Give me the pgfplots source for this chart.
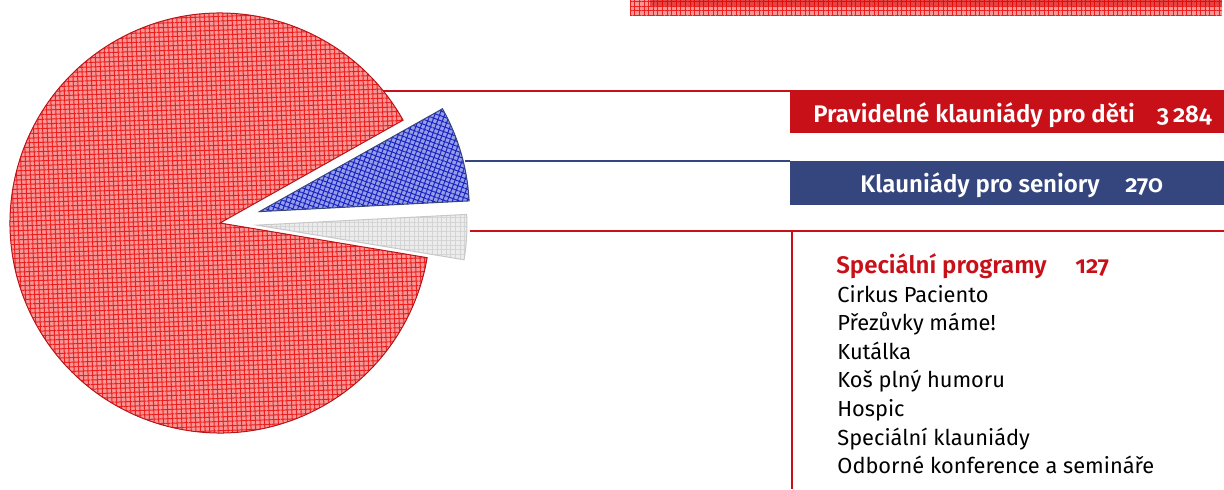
\documentclass[border=0pt]{standalone}
\usepackage{fontspec}
\setmainfont{Fira Sans}[Numbers={OldStyle,Proportional},BoldFont={Fira Sans SemiBold}]
\usepackage{pgfplots}
\pgfplotsset{compat=1.18}
\usepackage{pgfplotstable}
\usetikzlibrary{patterns.meta}

\definecolor{bannerred}{RGB}{200,16,24}
\definecolor{bannerblue}{RGB}{53,70,126}
\definecolor{redbase}{RGB}{248,150,150}
\definecolor{redline}{RGB}{236,30,30}
\definecolor{redborder}{RGB}{185,20,25}
\definecolor{bluebase}{RGB}{150,158,232}
\definecolor{blueline}{RGB}{25,35,195}
\definecolor{blueborder}{RGB}{55,70,125}
\definecolor{greybase}{RGB}{236,236,236}
\definecolor{greyline}{RGB}{212,212,212}
\definecolor{greyborder}{RGB}{200,200,200}

% slices counter-clockwise from the start angle: value, explode (px)
\pgfplotstableread{
name value explode
Special 127 37
Seniors 270 41
Children 3284 0
}\slices

\pgfplotstablegetelem{0}{value}\of\slices \pgfmathsetmacro\vG{\pgfplotsretval}
\pgfplotstablegetelem{1}{value}\of\slices \pgfmathsetmacro\vB{\pgfplotsretval}
\pgfplotstablegetelem{2}{value}\of\slices \pgfmathsetmacro\vR{\pgfplotsretval}
\pgfplotstablegetelem{0}{explode}\of\slices \pgfmathsetmacro\eG{\pgfplotsretval}
\pgfplotstablegetelem{1}{explode}\of\slices \pgfmathsetmacro\eB{\pgfplotsretval}
\pgfplotstablegetelem{2}{explode}\of\slices \pgfmathsetmacro\eR{\pgfplotsretval}
\pgfmathsetmacro\tot{\vG+\vB+\vR}
\pgfmathsetmacro\fG{\vG/\tot}
\pgfmathsetmacro\fB{\vB/\tot}
\pgfmathsetmacro\aS{-9.5}
\pgfmathsetmacro\aGB{\aS+360*\fG}
\pgfmathsetmacro\aBR{\aGB+360*\fB}
\pgfmathsetmacro\aE{\aS+360}
\pgfmathsetmacro\cx{220}
\pgfmathsetmacro\cy{266}
\pgfmathsetmacro\mG{(\aS+\aGB)/2}
\pgfmathsetmacro\mB{(\aGB+\aBR)/2}
\pgfmathsetmacro\gx{\cx+\eG*cos(\mG)}
\pgfmathsetmacro\gy{\cy+\eG*sin(\mG)}
\pgfmathsetmacro\bx{\cx+\eB*cos(\mB)}
\pgfmathsetmacro\by{\cy+\eB*sin(\mB)}

\newcommand\wedgefill[9]{%
  \fill[#5] (axis cs:#1,#2) -- ++(#3:105pt) arc[start angle=#3,end angle=#4,radius=105pt] -- cycle;
  \fill[pattern={Lines[angle=#8,distance=2.3pt,line width=0.5pt]},pattern color=#6] (axis cs:#1,#2) -- ++(#3:105pt) arc[start angle=#3,end angle=#4,radius=105pt] -- cycle;
  \fill[pattern={Lines[angle=#9,distance=2.3pt,line width=0.5pt]},pattern color=#6] (axis cs:#1,#2) -- ++(#3:105pt) arc[start angle=#3,end angle=#4,radius=105pt] -- cycle;
  \draw[#7,line width=0.5pt,line join=miter] (axis cs:#1,#2) -- ++(#3:105pt) arc[start angle=#3,end angle=#4,radius=105pt] -- cycle;
}
\newcommand\bfsz{\bfseries\fontsize{12}{14}\selectfont}
\newcommand\rgsz{\fontsize{10.9}{13}\selectfont}

\begin{document}
\begin{tikzpicture}
\begin{axis}[
  x=0.5pt, y=0.5pt,
  xmin=0, xmax=1224, ymin=0, ymax=489,
  scale only axis, hide axis, clip=false,
]
% top textured strip
\fill[redbase] (axis cs:630,474) rectangle (axis cs:1222,489);
\fill[pattern={Lines[angle=0,distance=2.3pt,line width=0.5pt]},pattern color=redline] (axis cs:630,474) rectangle (axis cs:1222,489);
\fill[pattern={Lines[angle=90,distance=2.3pt,line width=0.5pt]},pattern color=redline] (axis cs:630,474) rectangle (axis cs:1222,489);
\fill[red!85!black,opacity=0.55] (axis cs:650,483) rectangle (axis cs:1222,489);

% pie slices
\wedgefill{\cx}{\cy}{\aBR}{\aE}{redbase}{redline}{redborder}{2}{92}
\wedgefill{\bx}{\by}{\aGB}{\aBR}{bluebase}{blueline}{blueborder}{-20}{70}
\wedgefill{\gx}{\gy}{\aS}{\aGB}{greybase}{greyline}{greyborder}{0}{90}

% leader lines
\draw[bannerred,line width=0.7pt] (axis cs:383,398) -- (axis cs:790,398);
\draw[bannerblue,line width=0.7pt] (axis cs:465,328) -- (axis cs:790,328);
\draw[bannerred,line width=0.7pt] (axis cs:470,258) -- (axis cs:1224,258);
\draw[bannerred,line width=0.7pt] (axis cs:792,258) -- (axis cs:792,0);

% banners
\fill[bannerred] (axis cs:790,356) rectangle (axis cs:1224,399);
\fill[bannerblue] (axis cs:790,284) rectangle (axis cs:1224,328);

\node[anchor=base west,inner sep=0pt,text=white,font=\bfsz] at (axis cs:813,367) {Pravidelné klauniády pro děti};
\node[anchor=base east,inner sep=0pt,text=white,font=\bfsz] at (axis cs:1212,367) {3\,284};
\node[anchor=base west,inner sep=0pt,text=white,font=\bfsz] at (axis cs:860,297) {Klauniády pro seniory};
\node[anchor=base west,inner sep=0pt,text=white,font=\bfsz] at (axis cs:1125,297) {270};

\node[anchor=base west,inner sep=0pt,text=bannerred,font=\bfsz] at (axis cs:836,216) {Speciální programy};
\node[anchor=base west,inner sep=0pt,text=bannerred,font=\bfsz] at (axis cs:1075,216) {127};

\node[anchor=base west,inner sep=0pt,font=\rgsz] at (axis cs:837,187) {Cirkus Paciento};
\node[anchor=base west,inner sep=0pt,font=\rgsz] at (axis cs:837,158.4) {Přezůvky máme!};
\node[anchor=base west,inner sep=0pt,font=\rgsz] at (axis cs:837,129.8) {Kutálka};
\node[anchor=base west,inner sep=0pt,font=\rgsz] at (axis cs:837,101.2) {Koš plný humoru};
\node[anchor=base west,inner sep=0pt,font=\rgsz] at (axis cs:837,72.6) {Hospic};
\node[anchor=base west,inner sep=0pt,font=\rgsz] at (axis cs:837,44) {Speciální klauniády};
\node[anchor=base west,inner sep=0pt,font=\rgsz] at (axis cs:837,15.4) {Odborné konference a semináře};
\end{axis}
\pgfresetboundingbox
\path[use as bounding box] (current axis.south west) rectangle (current axis.north east);
\end{tikzpicture}
\end{document}
